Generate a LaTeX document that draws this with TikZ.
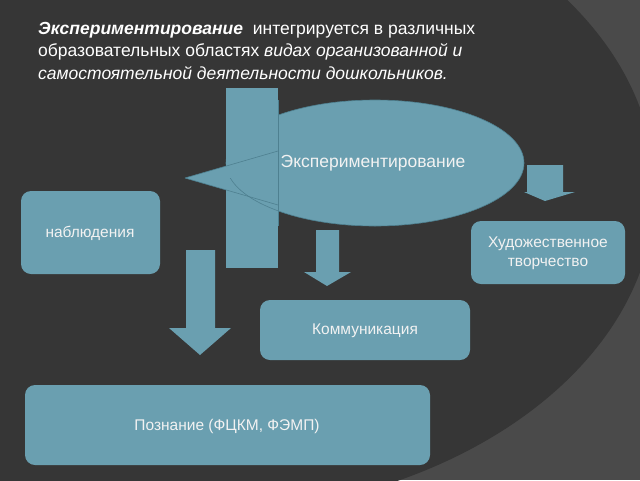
\documentclass[tikz,border=0pt]{standalone}
\usepackage{fontspec}
\setmainfont{Liberation Sans}
\definecolor{bgl}{HTML}{4A4A4A}
\definecolor{bgd}{HTML}{363636}
\definecolor{sb}{HTML}{6A9FB0}
\definecolor{sbl}{HTML}{4E8090}
\definecolor{tx}{HTML}{F2F2F2}
\begin{document}
\begin{tikzpicture}[x=1pt,y=-1pt,
  sbfill/.style={fill=sb},
  box/.style={fill=sb,rounded corners=10pt},
  lbl/.style={text=tx,font=\fontsize{15.5}{19}\selectfont,align=center}]
\useasboundingbox (0,0) rectangle (640,480);
\fill[bgl] (0,0) rectangle (640,480);
\begin{scope}
\clip (0,0) rectangle (640,480);
\fill[bgd] (190,190) ellipse [x radius=465pt, y radius=325pt];
\end{scope}
\node[anchor=north west,text=white,align=left,font=\fontsize{17.5}{22.5}\selectfont,inner sep=0pt] (title) at (38,22)
 {\textbf{\textit{Экспериментирование}}\ \ интегрируется в различных\\
  образовательных областях \textit{видах организованной и}\\
  \textit{самостоятельной деятельности дошкольников.}};
% central group
\draw[sbfill,draw=sbl,line width=0.6pt] (375,163) ellipse [x radius=149pt, y radius=63pt];
\fill[sbfill] (226,88) rectangle (278,268);
\draw[fill=sb,draw=none] (185,178) -- (278,151) -- (278,205) -- cycle;
\begin{scope}
\clip (226,178) rectangle (278,230);
\draw[sbl,line width=0.6pt] (375,163) ellipse [x radius=149pt, y radius=63pt];
\end{scope}
\draw[sbl,line width=0.6pt] (185,178) -- (278,151) (185,178) -- (278,205);
\draw[sbl,line width=0.6pt] (278,100) -- (278,226);
\node[lbl,font=\fontsize{17.5}{20}\selectfont] (exp) at (373,163) {Экспериментирование};
% boxes
\fill[box] (21,191) rectangle (160,274);
\node[lbl] (nab) at (90,233) {наблюдения};
\fill[box] (471,221) rectangle (625,284);
\node[lbl] (hud) at (548,253) {Художественное\\творчество};
\fill[box] (260,300) rectangle (470,360);
\node[lbl] (kom) at (365,331) {Коммуникация};
\fill[box] (25,385) rectangle (430,465);
\node[lbl] (poz) at (227,426) {Познание (ФЦКМ, ФЭМП)};
% arrows
\fill[sbfill] (527,165) -- (563,165) -- (563,192) -- (575,192) -- (545,201) -- (524,192) -- (527,192) -- cycle;
\fill[sbfill] (316,230) -- (339,230) -- (339,272) -- (351,272) -- (327,286) -- (304,272) -- (316,272) -- cycle;
\fill[sbfill] (186,250) -- (215,250) -- (215,328) -- (231,328) -- (200,355) -- (169,328) -- (186,328) -- cycle;
\end{tikzpicture}
\end{document}
